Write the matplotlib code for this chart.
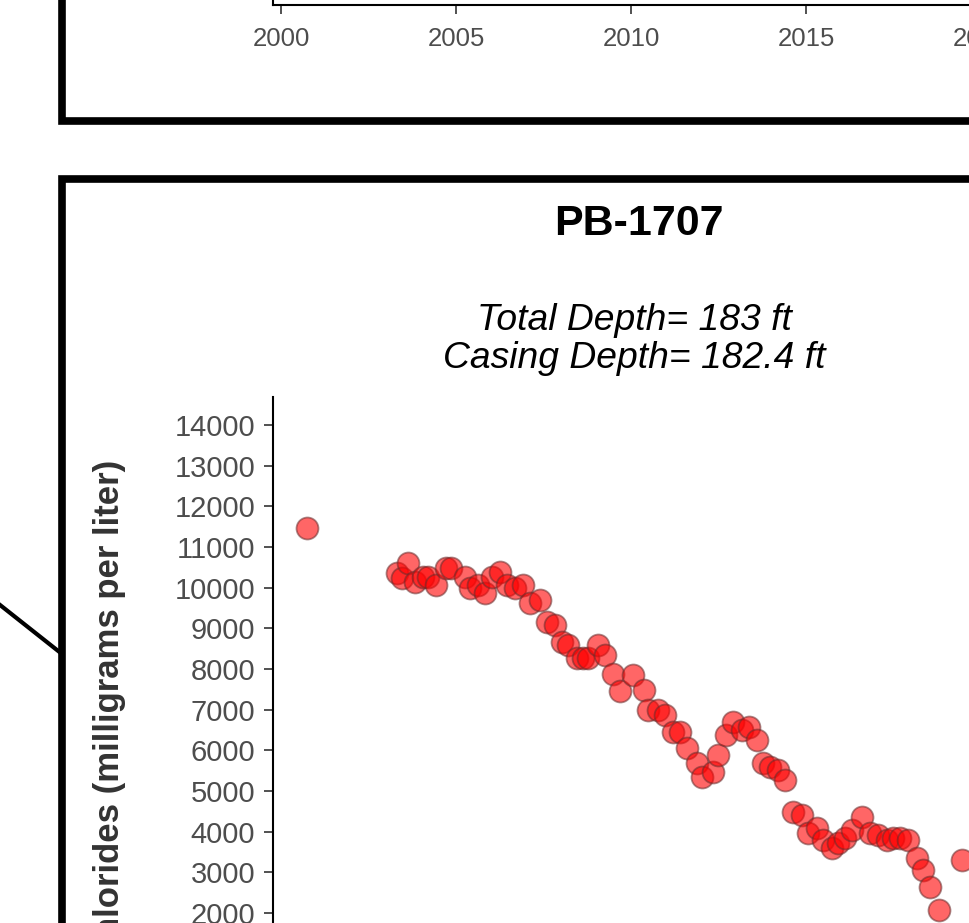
import matplotlib
matplotlib.use("Agg")
import matplotlib.pyplot as plt
from matplotlib.lines import Line2D
import numpy as np

plt.rcParams['font.family'] = ['Liberation Sans', 'DejaVu Sans']

# chloride samples for PB-1707 (decimal year, mg/L)
years = [2000.73, 2003.30, 2003.44, 2003.63, 2003.82, 2004.05, 2004.20, 2004.43, 2004.72, 2004.86,
         2005.25, 2005.39, 2005.63, 2005.82, 2006.01, 2006.25, 2006.44, 2006.68, 2006.92, 2007.11,
         2007.39, 2007.58, 2007.82, 2008.01, 2008.20, 2008.44, 2008.63, 2008.77, 2009.06, 2009.25,
         2009.49, 2009.68, 2010.05, 2010.35, 2010.49, 2010.77, 2010.96, 2011.20, 2011.39, 2011.58,
         2011.87, 2012.01, 2012.34, 2012.49, 2012.72, 2012.92, 2013.15, 2013.35, 2013.58, 2013.77,
         2013.96, 2014.20, 2014.39, 2014.63, 2014.87, 2015.05, 2015.30, 2015.49, 2015.73, 2015.92,
         2016.11, 2016.30, 2016.58, 2016.82, 2017.06, 2017.30, 2017.49, 2017.68, 2017.92, 2018.15,
         2018.34, 2018.54, 2018.80, 2019.44]
chlorides = [11460, 10350, 10230, 10600, 10150, 10270, 10270, 10070, 10480, 10480,
             10270, 9980, 10070, 9860, 10270, 10390, 10070, 9980, 10070, 9620,
             9700, 9160, 9080, 8670, 8590, 8260, 8260, 8260, 8590, 8340,
             7870, 7460, 7850, 7480, 6990, 6990, 6870, 6460, 6460, 6050,
             5680, 5350, 5480, 5890, 6380, 6700, 6500, 6580, 6260, 5680,
             5600, 5520, 5270, 4490, 4410, 3960, 4080, 3800, 3590, 3710,
             3840, 4040, 4370, 3960, 3920, 3800, 3840, 3840, 3800, 3350,
             3060, 2650, 2070, 3300]

y_ticks = list(range(2000, 14001, 1000))
x_ticks = [2000, 2005, 2010, 2015, 2020]

title = "PB-1707"
sub1 = "Total Depth= 183 ft"
sub2 = "Casing Depth= 182.4 ft"
ylabel = "Chlorides (milligrams per liter)"

W, H = 970, 923
fig = plt.figure(figsize=(W / 100, H / 100), dpi=100)


def fx(x):
    return x / W


def fy(y):
    return 1 - y / H


def box(x0, y0, x1, y1):
    # axes rect from pixel corners (top-left origin)
    return [fx(x0), fy(y1), (x1 - x0) / W, (y1 - y0) / H]


# pixel scale of the data
px_year = 35.0
x2000 = 281.3
px_unit = 0.04067
y14000 = 425.0


def year_at(x):
    return 2000 + (x - x2000) / px_year


def val_at(y):
    return 14000 - (y - y14000) / px_unit


tick_col = "#4D4D4D"
spine_lw = 1.5

# upper panel (only its x axis is visible)
ax_top = fig.add_axes(box(272.7, -300, 1200, 5))
ax_top.set_xlim(year_at(272.7), year_at(1200))
ax_top.set_ylim(0, 1)
ax_top.set_xticks(x_ticks)
ax_top.set_yticks([])
ax_top.tick_params(axis="x", length=6.5, width=1.2, color="#333333", pad=9,
                   labelsize=18.5, labelcolor=tick_col)
for s in ["top", "right"]:
    ax_top.spines[s].set_visible(False)
for s in ["left", "bottom"]:
    ax_top.spines[s].set_linewidth(spine_lw)

# lower panel
ax = fig.add_axes(box(272.7, 397, 1200, 1050))
ax.scatter(years, chlorides, s=250, facecolors=(1, 0, 0, 0.6),
           edgecolors=(0.4, 0.18, 0.18, 0.55), linewidths=1.3, zorder=3)
ax.set_xlim(year_at(272.7), year_at(1200))
ax.set_ylim(val_at(1050), val_at(397))
ax.set_yticks(y_ticks)
ax.set_xticks([])
ax.tick_params(axis="y", length=6.5, width=1.2, color="#333333", pad=6,
               labelsize=21, labelcolor=tick_col)
for s in ["top", "right"]:
    ax.spines[s].set_visible(False)
for s in ["left", "bottom"]:
    ax.spines[s].set_linewidth(spine_lw)

fig.text(fx(110), fy(711), ylabel, rotation=90, ha="center", va="center",
         fontsize=25, fontweight="bold", color="#333333")

fig.text(fx(639), fy(224), title, ha="center", va="center",
         fontsize=31, fontweight="bold", color="black")
fig.text(fx(634), fy(321), sub1, ha="center", va="center",
         fontsize=26.8, style="italic", color="black")
fig.text(fx(634), fy(359), sub2, ha="center", va="center",
         fontsize=26.8, style="italic", color="black")

# panel frames and the callout line
frame_lw = 5.5
fig.add_artist(Line2D([fx(62), fx(62), fx(1000)], [fy(-20), fy(120.5), fy(120.5)],
                      color="black", lw=frame_lw, solid_joinstyle="miter"))
fig.add_artist(Line2D([fx(62), fx(62), fx(1000)], [fy(1000), fy(179), fy(179)],
                      color="black", lw=frame_lw, solid_joinstyle="miter"))
fig.add_artist(Line2D([fx(-5), fx(62)], [fy(601), fy(654)], color="black", lw=3))

fig.savefig("out.png", dpi=100)
